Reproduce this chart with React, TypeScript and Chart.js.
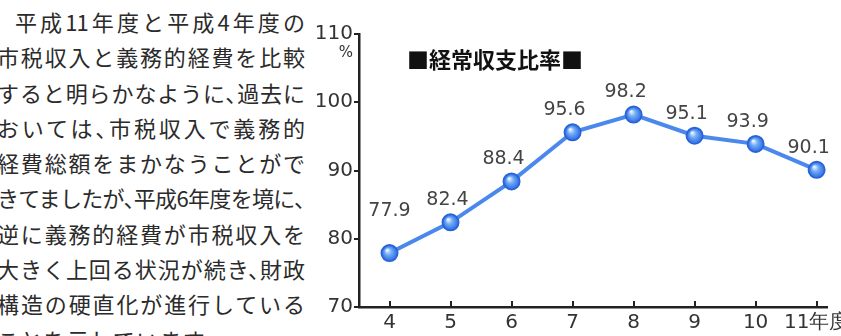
import React, { useEffect, useRef } from "react";
import { Chart, registerables } from "chart.js";

Chart.register(...registerables);

const years = [4, 5, 6, 7, 8, 9, 10, 11];
const xTickLabels = ["4", "5", "6", "7", "8", "9", "10", "11年度"];
const ratios = [77.9, 82.4, 88.4, 95.6, 98.2, 95.1, 93.9, 90.1];
const yTicks = [70, 80, 90, 100, 110];
const chartTitle = "■経常収支比率■";
const unitLabel = "%";
const paragraphLines = [
  "平成11年度と平成4年度の",
  "市税収入と義務的経費を比較",
  "すると明らかなように、過去に",
  "おいては、市税収入で義務的",
  "経費総額をまかなうことがで",
  "きてましたが、平成6年度を境に、",
  "逆に義務的経費が市税収入を",
  "大きく上回る状況が続き、財政",
  "構造の硬直化が進行している",
  "ことを示しています。",
];

const AXIS = "#222";
const NUM_FONT = '"DejaVu Sans", sans-serif';
const JP_FONT = '"Noto Sans CJK JP", sans-serif';

const decorPlugin = {
  id: "decor",
  afterDatasetsDraw(chart: any) {
    const { ctx, chartArea, scales } = chart;
    const xs = scales.x;
    const ys = scales.y;
    ctx.save();
    // x tick marks pointing up
    ctx.strokeStyle = AXIS;
    ctx.lineWidth = 2;
    years.forEach((v) => {
      const px = Math.round(xs.getPixelForValue(v));
      ctx.beginPath();
      ctx.moveTo(px, chartArea.bottom + 1);
      ctx.lineTo(px, chartArea.bottom - 6);
      ctx.stroke();
    });
    // unit label under 110
    ctx.fillStyle = "#333";
    ctx.font = `15px ${NUM_FONT}`;
    ctx.textAlign = "right";
    ctx.textBaseline = "middle";
    ctx.fillText(unitLabel, chartArea.left - 6, ys.getPixelForValue(110) + 19);
    // title
    ctx.fillStyle = "#111";
    ctx.font = `bold 22px ${JP_FONT}`;
    ctx.textAlign = "center";
    ctx.fillText(chartTitle, chartArea.left + 136, chartArea.top + 26);
    // point highlights and value labels
    const meta = chart.getDatasetMeta(0);
    meta.data.forEach((pt: any, i: number) => {
      const x = pt.x;
      const y = pt.y;
      const g = ctx.createRadialGradient(x - 2.5, y - 3, 0.5, x, y, 7);
      g.addColorStop(0, "rgba(235,246,255,1)");
      g.addColorStop(0.45, "#74acf6");
      g.addColorStop(1, "#3576e6");
      ctx.fillStyle = g;
      ctx.beginPath();
      ctx.arc(x, y, 7, 0, Math.PI * 2);
      ctx.fill();
      const dx = i === 0 ? 0 : i === 1 ? -3 : -8;
      const dy = i === 0 ? -42 : -22;
      ctx.fillStyle = "#444";
      ctx.font = `19px ${NUM_FONT}`;
      ctx.textAlign = "center";
      ctx.textBaseline = "middle";
      ctx.fillText(ratios[i].toFixed(1), x + dx, y + dy);
    });
    ctx.restore();
  },
};

function RatioChart() {
  const ref = useRef<HTMLCanvasElement | null>(null);
  useEffect(() => {
    if (!ref.current) return;
    const chart = new Chart(ref.current, {
      type: "line",
      data: {
        datasets: [
          {
            data: years.map((x, i) => ({ x, y: ratios[i] })),
            borderColor: "#4a88ee",
            borderWidth: 4,
            pointRadius: 8,
            pointBackgroundColor: "#4f8ef0",
            pointBorderColor: "#2a63d8",
            pointBorderWidth: 2,
            tension: 0,
          },
        ],
      },
      options: {
        animation: false,
        responsive: false,
        maintainAspectRatio: false,
        layout: { padding: { top: 34, right: 14, left: 0, bottom: 0 } },
        plugins: { legend: { display: false }, tooltip: { enabled: false } },
        scales: {
          x: {
            type: "linear",
            min: 3.5,
            max: 11.17,
            afterBuildTicks: (s: any) => {
              s.ticks = years.map((v) => ({ value: v }));
            },
            afterFit: (s: any) => {
              s.height = 29;
              s.paddingLeft = 0;
              s.paddingRight = 0;
            },
            grid: { display: false },
            border: { display: true, color: AXIS, width: 2.5 },
            ticks: {
              callback: (_v: any, i: number) => xTickLabels[i],
              font: { size: 20, family: NUM_FONT, lineHeight: 1.0 },
              color: "#333",
              padding: -2,
              maxRotation: 0,
              autoSkip: false,
            },
          },
          y: {
            min: 70,
            max: 110,
            afterBuildTicks: (s: any) => {
              s.ticks = yTicks.map((v) => ({ value: v }));
            },
            afterFit: (s: any) => {
              s.width = 59;
              s.paddingTop = 0;
              s.paddingBottom = 0;
            },
            grid: {
              drawOnChartArea: false,
              drawTicks: true,
              tickLength: 5,
              color: AXIS,
              lineWidth: 2,
            },
            border: { display: true, color: AXIS, width: 2.5 },
            ticks: {
              font: { size: 20, family: NUM_FONT },
              color: "#333",
              padding: 1,
            },
          },
        },
      },
      plugins: [decorPlugin],
    } as any);
    return () => chart.destroy();
  }, []);
  return (
    <canvas
      ref={ref}
      width={541}
      height={336}
      style={{ position: "absolute", left: 300, top: 0, width: 541, height: 336 }}
    />
  );
}

export default function App() {
  return (
    <div
      style={{
        position: "fixed",
        left: 0,
        top: 0,
        width: 841,
        height: 336,
        overflow: "hidden",
        background: "#fff",
      }}
    >
      <div
        style={{
          position: "absolute",
          left: -3,
          top: 4,
          width: 307,
          fontFamily: JP_FONT,
          fontSize: 22,
          lineHeight: "35.3px",
          color: "#2b2b2b",
          fontFeatureSettings: '"halt"',
        }}
      >
        {paragraphLines.map((line, i) => {
          const last = i === paragraphLines.length - 1;
          return (
            <div
              key={i}
              style={{
                whiteSpace: "nowrap",
                textAlign: last ? "left" : "justify",
                textAlignLast: last ? "left" : "justify",
                paddingLeft: i === 0 ? 18 : 0,
                letterSpacing: last ? 1.3 : -1,
              } as any}
            >
              {line}
            </div>
          );
        })}
      </div>
      <RatioChart />
    </div>
  );
}
